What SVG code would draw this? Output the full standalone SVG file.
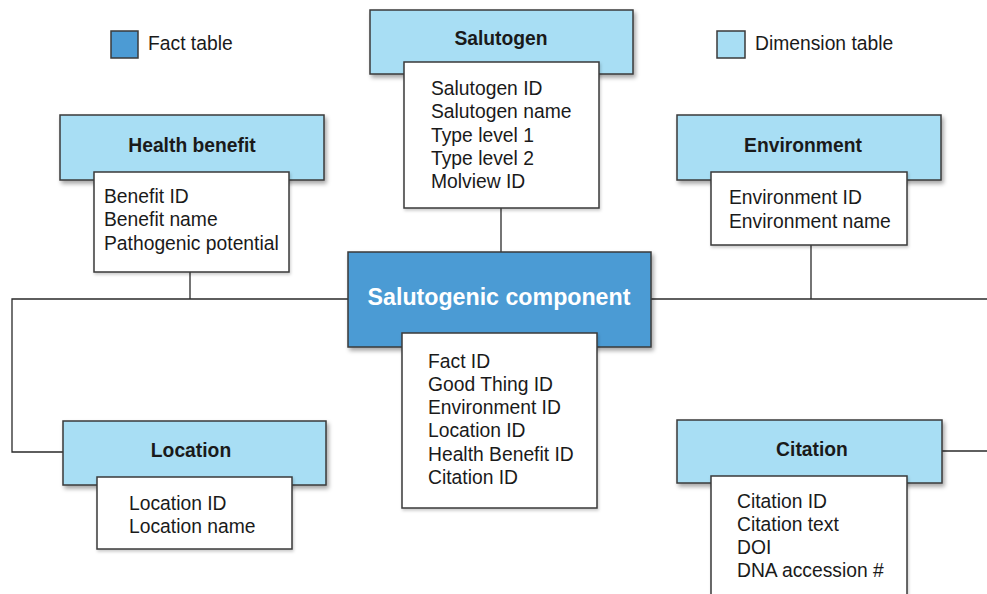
<svg xmlns="http://www.w3.org/2000/svg" width="987" height="594" viewBox="0 0 987 594">
<style>
text{font-family:"Liberation Sans",Arial,Helvetica,sans-serif;fill:#1a1a1a}
.title{font-size:19.3px;font-weight:bold;text-anchor:middle}
.attr{font-size:19.3px}
.big{font-size:23.2px;font-weight:bold;fill:#ffffff;text-anchor:middle}
.dim{fill:#a8def4;stroke:#3a3a3a;stroke-width:1.5;filter:url(#sh)}
.fact{fill:#4c9bd4;stroke:#3a3a3a;stroke-width:1.5;filter:url(#sh)}
.box{fill:#ffffff;stroke:#3a3a3a;stroke-width:1.5;filter:url(#sh2)}
.conn{fill:none;stroke:#2a2a2a;stroke-width:1.3}
</style>
<defs>
<filter id="sh" x="-10%" y="-10%" width="130%" height="140%">
<feDropShadow dx="2" dy="3" stdDeviation="2" flood-color="#000" flood-opacity="0.35"/>
</filter>
<filter id="sh2" x="-10%" y="-10%" width="130%" height="140%">
<feDropShadow dx="1" dy="2" stdDeviation="1.5" flood-color="#000" flood-opacity="0.2"/>
</filter>
</defs>
<rect width="987" height="594" fill="#ffffff"/>

<g id="legend">
<rect x="111" y="31" width="27" height="27" fill="#4c9bd4" stroke="#3a3a3a" stroke-width="1.5"/>
<text class="attr" x="148" y="50">Fact table</text>
<rect x="717" y="31" width="28" height="27" fill="#a8def4" stroke="#3a3a3a" stroke-width="1.5"/>
<text class="attr" x="755" y="50">Dimension table</text>
</g>

<g id="connectors">
<line class="conn" x1="501" y1="208" x2="501" y2="252"/>
<line class="conn" x1="190" y1="272" x2="190" y2="299"/>
<line class="conn" x1="811" y1="245" x2="811" y2="299"/>
<polyline class="conn" points="348,299 12,299 12,452 63,452"/>
<line class="conn" x1="651" y1="299" x2="987" y2="299"/>
<line class="conn" x1="942" y1="451" x2="987" y2="451"/>
</g>

<g id="salutogen">
<rect class="dim" x="370" y="10" width="263" height="64"/>
<text class="title" x="501" y="45">Salutogen</text>
<rect class="box" x="404" y="62" width="195" height="146"/>
<text class="attr" x="431" y="95">Salutogen ID</text>
<text class="attr" x="431" y="118.3">Salutogen name</text>
<text class="attr" x="431" y="141.6">Type level 1</text>
<text class="attr" x="431" y="165">Type level 2</text>
<text class="attr" x="431" y="188.3">Molview ID</text>
</g>

<g id="health-benefit">
<rect class="dim" x="60" y="115" width="264" height="65"/>
<text class="title" x="192" y="152">Health benefit</text>
<rect class="box" x="94" y="172" width="195" height="100"/>
<text class="attr" x="104" y="203">Benefit ID</text>
<text class="attr" x="104" y="226.3">Benefit name</text>
<text class="attr" x="104" y="249.6">Pathogenic potential</text>
</g>

<g id="environment">
<rect class="dim" x="677" y="115" width="264" height="65"/>
<text class="title" x="803" y="152">Environment</text>
<rect class="box" x="711" y="172" width="196" height="73"/>
<text class="attr" x="729" y="204">Environment ID</text>
<text class="attr" x="729" y="227.5">Environment name</text>
</g>

<g id="salutogenic-component">
<rect class="fact" x="348" y="252" width="303" height="95"/>
<text class="big" x="499" y="305">Salutogenic component</text>
<rect class="box" x="402" y="333" width="195" height="175"/>
<text class="attr" x="428" y="367.5">Fact ID</text>
<text class="attr" x="428" y="390.8">Good Thing ID</text>
<text class="attr" x="428" y="414.1">Environment ID</text>
<text class="attr" x="428" y="437.4">Location ID</text>
<text class="attr" x="428" y="460.7">Health Benefit ID</text>
<text class="attr" x="428" y="484">Citation ID</text>
</g>

<g id="location">
<rect class="dim" x="63" y="421" width="263" height="64"/>
<text class="title" x="191" y="457">Location</text>
<rect class="box" x="97" y="477" width="195" height="72"/>
<text class="attr" x="129" y="509.5">Location ID</text>
<text class="attr" x="129" y="532.8">Location name</text>
</g>

<g id="citation">
<rect class="dim" x="677" y="420" width="265" height="63"/>
<text class="title" x="812" y="456">Citation</text>
<rect class="box" x="711" y="476" width="196" height="130"/>
<text class="attr" x="737" y="507.5">Citation ID</text>
<text class="attr" x="737" y="530.8">Citation text</text>
<text class="attr" x="737" y="554.1">DOI</text>
<text class="attr" x="737" y="577.4">DNA accession #</text>
</g>
</svg>
